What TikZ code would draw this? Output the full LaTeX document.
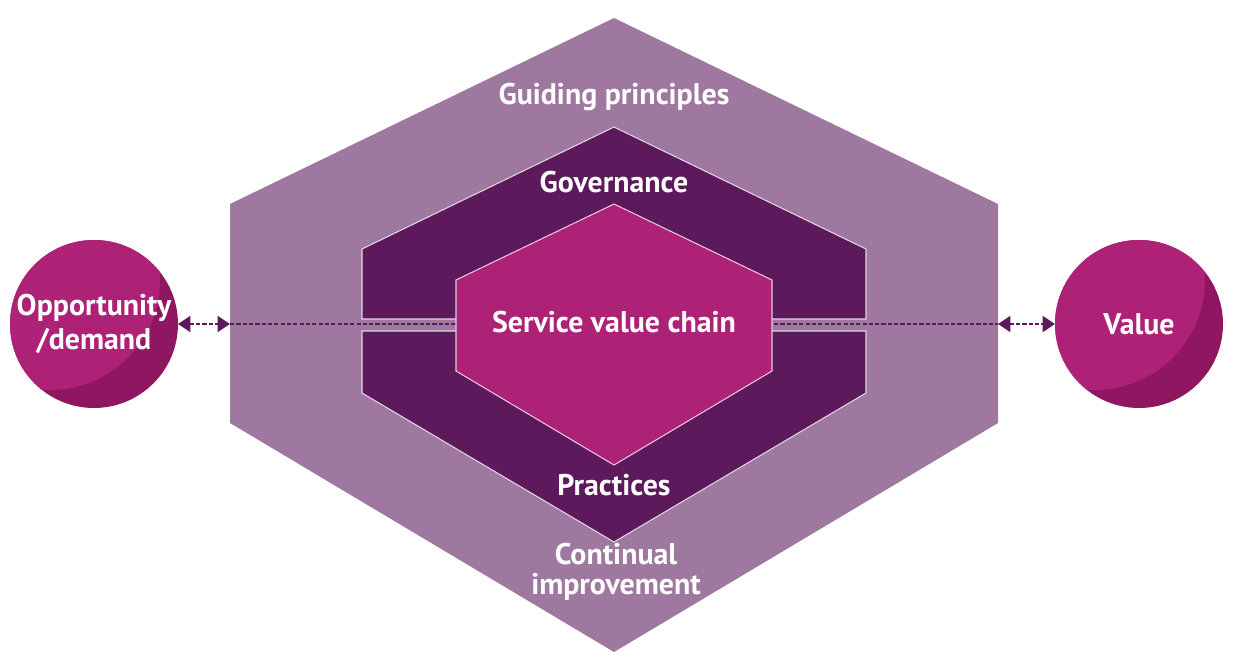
\documentclass[tikz,border=0pt]{standalone}
\usepackage{fontspec}
\setmainfont{PT Sans}
\usepackage{tikz}
\usepackage{color}
\usetikzlibrary{arrows.meta}

\definecolor{outerhex}{RGB}{158,120,158}
\definecolor{darkhex}{RGB}{92,26,92}
\definecolor{chainhex}{RGB}{173,33,118}
\definecolor{ballshade}{RGB}{143,22,96}

\tikzset{
	hextext/.style={text=white, font=\bfseries\fontsize{17}{17}\selectfont, align=center, inner sep=0pt},
	ball/.style={circle, minimum size=3.36cm, inner sep=0pt, outer sep=0pt, fill=ballshade,
		path picture={\fill[chainhex] ([shift={(-0.88cm,0.88cm)}]path picture bounding box.center) circle (2.2cm);}},
	dashline/.style={darkhex, line width=1.2pt, dash pattern=on 2.4pt off 1.2pt},
	twotips/.style={{Triangle[length=7pt,width=9pt]}-{Triangle[length=7pt,width=9pt]}}
}

\begin{document}
\begin{tikzpicture}[x=0.02cm, y=-0.02cm]
	\useasboundingbox (0, 0) rectangle (1234, 664);
	% hexagons
	\fill[outerhex] (614, 18) -- (998, 204) -- (998, 423) -- (614, 652) -- (230, 423) -- (230, 204) -- cycle;
	\filldraw[fill=darkhex, draw=white!70!outerhex, line width=0.6pt] (614, 127) -- (866, 249) -- (866, 319) -- (362, 319) -- (362, 249) -- cycle;
	\filldraw[fill=darkhex, draw=white!70!outerhex, line width=0.6pt] (362, 331) -- (866, 331) -- (866, 393) -- (614, 542) -- (362, 393) -- cycle;
	\coordinate (hexW)at(230, 324);
	\coordinate (hexE)at(998, 324);
	\draw[dashline] (hexW) -- (hexE);
	\filldraw[fill=chainhex, draw=white!75!chainhex, line width=0.6pt] (614, 204) -- (772, 280) -- (772, 371) -- (614, 465) -- (456, 371) -- (456, 280) -- cycle;
	% labels
	\node[hextext] (guiding)at(614, 97) {Guiding principles};
	\node[hextext] (gov)at(614, 182) {Governance};
	\node[hextext] (svc)at(614, 322) {Service value chain};
	\node[hextext] (prac)at(614, 485) {Practices};
	\node[hextext, font=\bfseries\fontsize{17}{17}\selectfont] (cont)at(616, 572) {Continual\\improvement};
	% in and out
	\node[ball, hextext, font=\bfseries\fontsize{17}{19.5}\selectfont] (opp)at(94, 324) {Opportunity\\/demand};
	\node[ball, hextext] (val)at(1139, 324) {Value};
	\draw[dashline, twotips] (opp) -- (hexW);
	\draw[dashline, twotips] (hexE) -- (val);
\end{tikzpicture}
\end{document}
